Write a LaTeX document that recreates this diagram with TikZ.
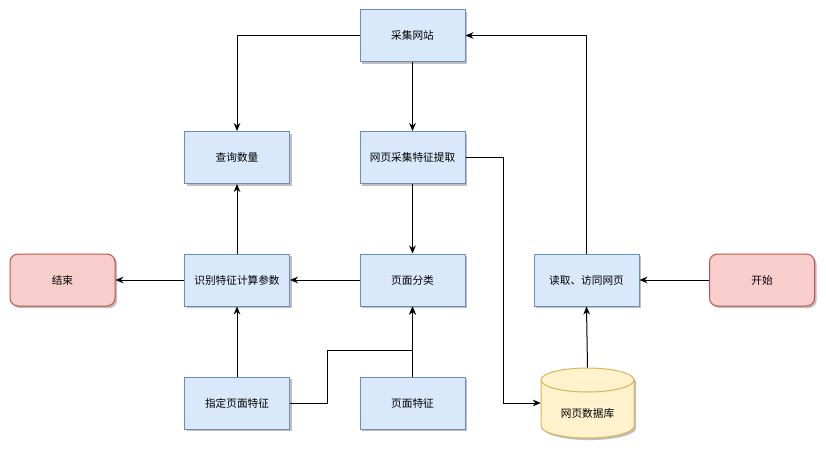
\documentclass[tikz,border=0pt]{standalone}
\usepackage{fontspec}
\newfontfamily\cjk{Noto Sans CJK SC}
\usetikzlibrary{
    arrows.meta,
    shadows
}
\definecolor{boxblue}{HTML}{DAE8FC}
\definecolor{lineblue}{HTML}{6C8EBF}
\definecolor{boxred}{HTML}{F8CECC}
\definecolor{linered}{HTML}{B85450}
\definecolor{boxyellow}{HTML}{FFF2CC}
\definecolor{lineyellow}{HTML}{D6B656}
\tikzset{
    cjkfont/.style={font=\cjk\fontsize{8}{10}\selectfont},
    shade3/.style={drop shadow={shadow xshift=1.6pt, shadow yshift=-1.6pt, opacity=0.25, fill=black}},
    box/.style={draw=lineblue, fill=boxblue, line width=0.75pt, minimum width=78.75pt, minimum height=39pt, cjkfont, shade3},
    endbox/.style={box, draw=linered, fill=boxred, rounded corners=6pt},
    dbbox/.style={minimum width=69.75pt, minimum height=52.5pt, inner sep=0pt},
    link/.style={-{Stealth[length=6pt,width=5pt]}, line width=0.75pt}
}

\begin{document}
\begin{tikzpicture}[x=0.75pt,y=-0.75pt]
    \useasboundingbox (0,0) rectangle (826,450);
    % boxes
    \node[box] (site) at (412.5,35.5) {采集网站};
    \node[box] (count) at (237,157.5) {查询数量};
    \node[box] (extract) at (412.5,157.5) {网页采集特征提取};
    \node[box] (calc) at (237,280) {识别特征计算参数};
    \node[box] (classify) at (412.5,280) {页面分类};
    \node[box] (read) at (586.5,280) {读取、访同网页};
    \node[endbox] (stop) at (62.5,280) {结束};
    \node[endbox] (start) at (762,280) {开始};
    \node[box] (given) at (237,403) {指定页面特征};
    \node[box] (pagefeat) at (412.5,403) {页面特征};
    % database
    \draw[draw=lineyellow, fill=boxyellow, line width=0.75pt, shade3]
        (541,380) -- (541,426) arc[start angle=180, end angle=360, x radius=34.875pt, y radius=9pt]
        -- (634,380) arc[start angle=0, end angle=180, x radius=34.875pt, y radius=9pt] -- cycle;
    \draw[draw=lineyellow, line width=0.75pt]
        (541,380) arc[start angle=180, end angle=360, x radius=34.875pt, y radius=9pt];
    \node[dbbox, label={[cjkfont, yshift=-7.5pt]center:网页数据库}] (db) at (587.5,403) {};
    % bends
    \coordinate (bendA) at (503,157.5);
    \coordinate (bendB) at (327,350);
    % links
    \draw[link] (site.west) -| (count.north);
    \draw[link] (site.south) -- (extract.north);
    \draw[link] (extract.east) -- (bendA) |- (db.west);
    \draw[link] (extract.south) -- (classify.north);
    \draw[link] (classify.west) -- (calc.east);
    \draw[link] (calc.north) -- (count.south);
    \draw[link] (calc.west) -- (stop.east);
    \draw[link] (given.north) -- (calc.south);
    \draw[link] (given.east) -| (bendB) -| (classify.south);
    \draw[link] (pagefeat.north) -- (classify.south);
    \draw[link] (start.west) -- (read.east);
    \draw[link] (db.north) -- (read.south);
    \draw[link] (read.north) |- (site.east);
\end{tikzpicture}
\end{document}
